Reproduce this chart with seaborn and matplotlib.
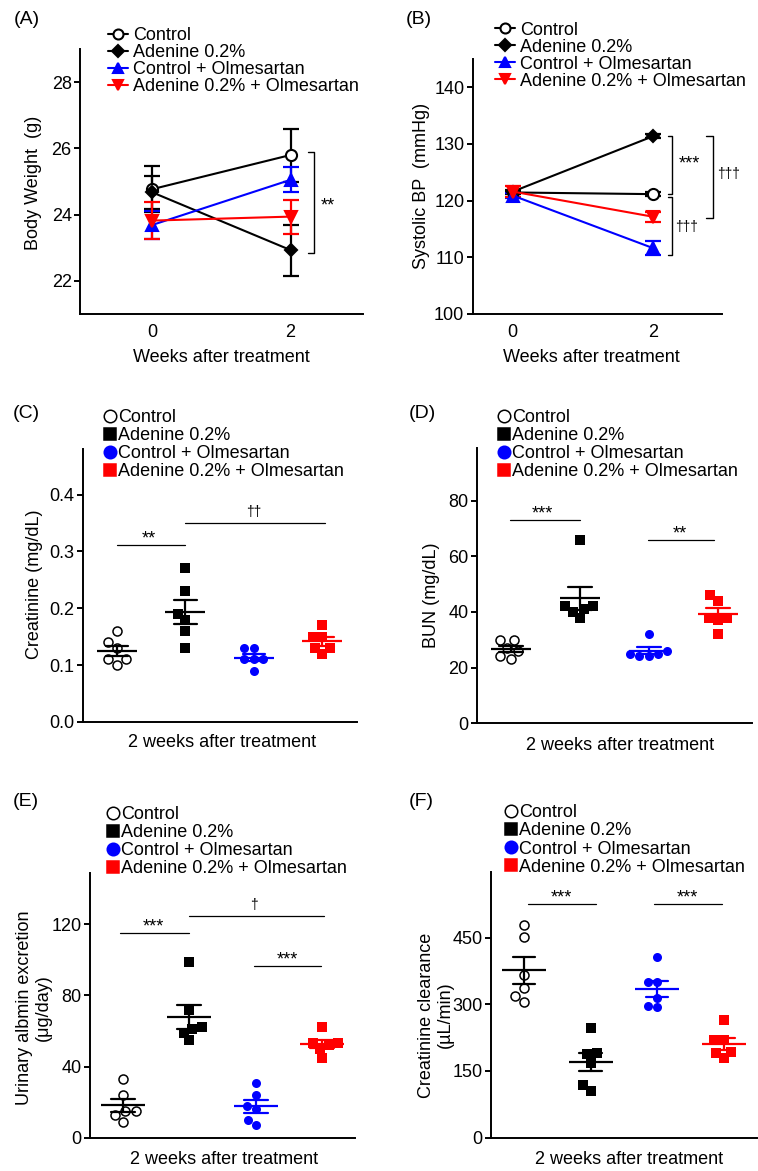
import numpy as np
import pandas as pd
import matplotlib
matplotlib.use("Agg")
import matplotlib.pyplot as plt
import seaborn as sns
from matplotlib.lines import Line2D
from matplotlib.ticker import FormatStrFormatter

# ---------------- data ----------------
groups = ["Control", "Adenine 0.2%", "Control + Olmesartan", "Adenine 0.2% + Olmesartan"]
weeks = [0, 2]

# (A) body weight (g), mean and SE
bw_control = [24.77, 25.80]
bw_control_se = [0.70, 0.80]
bw_adenine = [24.67, 22.93]
bw_adenine_se = [0.50, 0.77]
bw_ctrl_olm = [23.69, 25.05]
bw_ctrl_olm_se = [0.42, 0.38]
bw_aden_olm = [23.82, 23.94]
bw_aden_olm_se = [0.57, 0.51]

# (B) systolic BP (mmHg), mean and SE
sbp_control = [121.45, 121.15]
sbp_control_se = [0.3, 0.3]
sbp_adenine = [121.6, 131.4]
sbp_adenine_se = [0.3, 0.3]
sbp_ctrl_olm = [120.9, 111.6]
sbp_ctrl_olm_se = [0.4, 1.2]
sbp_aden_olm = [121.6, 117.15]
sbp_aden_olm_se = [1.0, 0.85]

# (C) creatinine (mg/dL)
cre_control = [0.16, 0.14, 0.13, 0.11, 0.11, 0.10]
cre_adenine = [0.27, 0.23, 0.19, 0.18, 0.16, 0.13]
cre_ctrl_olm = [0.13, 0.13, 0.11, 0.11, 0.11, 0.09]
cre_aden_olm = [0.17, 0.15, 0.15, 0.13, 0.13, 0.12]

# (D) BUN (mg/dL)
bun_control = [30, 30, 27, 26, 24, 23]
bun_adenine = [66, 42, 42, 41, 40, 38]
bun_ctrl_olm = [32, 26, 25, 25, 24, 24]
bun_aden_olm = [46, 44, 38, 38, 37, 32]

# (E) urinary albumin excretion (ug/day)
alb_control = [33, 24, 15, 15, 13, 9]
alb_adenine = [99, 72, 62, 61, 59, 55]
alb_ctrl_olm = [31, 24, 18, 16, 10, 7]
alb_aden_olm = [62, 53, 52, 53, 50, 45]

# (F) creatinine clearance (uL/min)
ccr_control = [478, 451, 366, 336, 319, 306]
ccr_adenine = [246, 191, 188, 169, 119, 106]
ccr_ctrl_olm = [407, 349, 349, 314, 297, 293]
ccr_aden_olm = [265, 220, 220, 192, 190, 179]

# ---------------- style ----------------
sns.set_theme(style="ticks")
plt.rcParams["font.family"] = ["Liberation Sans", "DejaVu Sans"]
plt.rcParams.update({
    "font.size": 13,
    "axes.linewidth": 1.4,
    "axes.edgecolor": "black",
    "axes.labelcolor": "black",
    "text.color": "black",
    "xtick.color": "black",
    "ytick.color": "black",
    "xtick.major.width": 1.4,
    "ytick.major.width": 1.4,
    "ytick.major.size": 4.5,
    "xtick.major.size": 0,
    "xtick.labelsize": 13,
    "ytick.labelsize": 13,
    "ytick.major.pad": 1.5,
    "xtick.major.pad": 7,
})

W, H = 758, 1171
fig = plt.figure(figsize=(W / 100, H / 100), dpi=100)

BOX = {
    "A": (80, 49, 363, 314),
    "B": (472.7, 59, 721.7, 314),
    "C": (82.7, 449, 356.7, 722),
    "D": (476.7, 447.7, 752.3, 723.3),
    "E": (90, 872.7, 355, 1137.7),
    "F": (490.7, 871.7, 757, 1137.7),
}


def make_ax(key):
    x0, y0, x1, y1 = BOX[key]
    ax = fig.add_axes([x0 / W, 1 - y1 / H, (x1 - x0) / W, (y1 - y0) / H])
    sns.despine(ax=ax)
    return ax


def label_at(ax, key, axis, text, cx, cy, **kw):
    x0, y0, x1, y1 = BOX[key]
    axx = (cx - x0) / (x1 - x0)
    axy = (y1 - cy) / (y1 - y0)
    if axis == "y":
        ax.set_ylabel(text, va="center", ha="center", fontsize=13, **kw)
        ax.yaxis.set_label_coords(axx, axy)
    else:
        ax.set_xlabel(text, va="center", ha="center", fontsize=13, **kw)
        ax.xaxis.set_label_coords(axx, axy)


def legend_at(handles, x_left, y_center, **kw):
    fig.legend(handles=handles, labels=groups, loc="center left",
               bbox_to_anchor=(x_left / W, 1 - y_center / H), frameon=False,
               borderpad=0, borderaxespad=0, fontsize=13, **kw)


line_styles = [
    dict(color="black", marker="o", mfc="white", ms=8),
    dict(color="black", marker="D", mfc="black", ms=6.5),
    dict(color="blue", marker="^", mfc="blue", ms=8.5),
    dict(color="red", marker="v", mfc="red", ms=8.5),
]

dot_styles = [
    dict(marker="o", face="white", edge="black", lw=1.1, mean="black"),
    dict(marker="s", face="black", edge="black", lw=0, mean="black"),
    dict(marker="o", face="blue", edge="blue", lw=0, mean="blue"),
    dict(marker="s", face="red", edge="red", lw=0, mean="red"),
]


def line_panel(ax, means, ses):
    for m, s, st in zip(means, ses, line_styles):
        ax.errorbar(weeks, m, yerr=s, fmt="none", ecolor=st["color"],
                    elinewidth=1.6, capsize=6, capthick=1.6, zorder=2)
        sns.lineplot(x=weeks, y=m, ax=ax, color=st["color"], marker=st["marker"],
                     markersize=st["ms"], markerfacecolor=st["mfc"],
                     markeredgecolor=st["color"], markeredgewidth=1.5,
                     linewidth=1.5, zorder=3)
    handles = [Line2D([0], [0], color=st["color"], marker=st["marker"],
                      markersize=st["ms"] * 0.9, markerfacecolor=st["mfc"],
                      markeredgecolor=st["color"], markeredgewidth=1.5, lw=1.5)
               for st in line_styles]
    return handles


def dot_panel(ax, data_lists, mean_w, cap):
    for g, vals, st in zip(groups, data_lists, dot_styles):
        sns.swarmplot(x=[g] * len(vals), y=vals, order=groups, ax=ax,
                      marker=st["marker"], color=st["face"], edgecolor=st["edge"],
                      linewidth=st["lw"], size=6.5, zorder=3)
    for g, vals, st in zip(groups, data_lists, dot_styles):
        sns.pointplot(x=[g] * len(vals), y=vals, order=groups, ax=ax,
                      color=st["mean"], errorbar="se", capsize=cap, markers="_",
                      linestyles="none", markersize=mean_w, markeredgewidth=1.6,
                      err_kws={"linewidth": 1.6}, zorder=4)
    ax.set_xlim(-0.5, 3.5)
    ax.tick_params(axis="x", bottom=False, labelbottom=False)
    ax.set_xlabel("")
    handles = [Line2D([0], [0], linestyle="none", marker=st["marker"],
                      markersize=9, markerfacecolor=st["face"],
                      markeredgecolor=st["edge"], markeredgewidth=1.1)
               for st in dot_styles]
    return handles


def sig_line(ax, x0, x1, y, text, xt=None, dagger=False):
    ax.plot([x0, x1], [y, y], color="black", lw=0.9, clip_on=False)
    xt = (x0 + x1) / 2 if xt is None else xt
    if dagger:
        ax.annotate(text, (xt, y), xytext=(0, 5), textcoords="offset points",
                    ha="center", va="baseline", fontsize=10)
    else:
        ax.annotate(text, (xt, y), xytext=(0, 1), textcoords="offset points",
                    ha="center", va="baseline", fontsize=13)


def bracket(ax, x_arm, x_bar, y_top, y_bot):
    ax.plot([x_arm, x_bar, x_bar, x_arm], [y_top, y_top, y_bot, y_bot],
            color="black", lw=1.0, clip_on=False)


# ---------------- (A) ----------------
axA = make_ax("A")
hA = line_panel(axA,
                [bw_control, bw_adenine, bw_ctrl_olm, bw_aden_olm],
                [bw_control_se, bw_adenine_se, bw_ctrl_olm_se, bw_aden_olm_se])
axA.set_xlim(-1.05, 3.05)
axA.set_ylim(21, 29)
axA.set_xticks(weeks)
axA.set_yticks([22, 24, 26, 28])
bracket(axA, 2.25, 2.34, 25.9, 22.83)
axA.annotate("**", (2.54, 24.13), ha="center", va="baseline", fontsize=13)
label_at(axA, "A", "x", "Weeks after treatment", 221, 357)
label_at(axA, "A", "y", "Body Weight  (g)", 33, 183)
legend_at(hA, 108, 61, handlelength=1.1, handletextpad=0.3, labelspacing=0.0)

# ---------------- (B) ----------------
axB = make_ax("B")
hB = line_panel(axB,
                [sbp_control, sbp_adenine, sbp_ctrl_olm, sbp_aden_olm],
                [sbp_control_se, sbp_adenine_se, sbp_ctrl_olm_se, sbp_aden_olm_se])
axB.set_xlim(-0.57, 2.97)
axB.set_ylim(100, 145)
axB.set_xticks(weeks)
axB.set_yticks([100, 110, 120, 130, 140])
bracket(axB, 2.2, 2.26, 131.5, 121.2)
bracket(axB, 2.2, 2.26, 120.7, 110.5)
bracket(axB, 2.75, 2.85, 131.5, 116.9)
axB.annotate("***", (2.51, 125.7), ha="center", va="baseline", fontsize=13)
axB.annotate("\u2020\u2020\u2020", (2.465, 114.73), ha="center", va="baseline", fontsize=10)
axB.annotate("\u2020\u2020\u2020", (3.065, 124.0), ha="center", va="baseline",
             fontsize=10, annotation_clip=False)
label_at(axB, "B", "x", "Weeks after treatment", 591, 358)
label_at(axB, "B", "y", "Systolic BP  (mmHg)", 421.7, 186)
legend_at(hB, 495, 55.7, handlelength=1.1, handletextpad=0.3, labelspacing=0.0)

# ---------------- (C) ----------------
axC = make_ax("C")
hC = dot_panel(axC, [cre_control, cre_adenine, cre_ctrl_olm, cre_aden_olm], 29, 0.33)
axC.set_ylim(0, 0.48)
axC.set_yticks([0.0, 0.1, 0.2, 0.3, 0.4])
axC.yaxis.set_major_formatter(FormatStrFormatter("%.1f"))
sig_line(axC, 0, 1, 0.311, "**", xt=0.47)
sig_line(axC, 1, 3.03, 0.35, "\u2020\u2020", xt=2.0, dagger=True)
label_at(axC, "C", "x", "2 weeks after treatment", 222.5, 742.7)
label_at(axC, "C", "y", "Creatinine (mg/dL)", 35, 584)
legend_at(hC, 103.2, 444.7, handlelength=0.7, handletextpad=0.1, labelspacing=0.06)

# ---------------- (D) ----------------
axD = make_ax("D")
hD = dot_panel(axD, [bun_control, bun_adenine, bun_ctrl_olm, bun_aden_olm], 29, 0.35)
axD.set_ylim(0, 99)
axD.set_yticks([0, 20, 40, 60, 80])
sig_line(axD, -0.01, 1.0, 73, "***", xt=0.45)
sig_line(axD, 1.98, 2.95, 65.9, "**", xt=2.45)
label_at(axD, "D", "x", "2 weeks after treatment", 620, 745)
label_at(axD, "D", "y", "BUN (mg/dL)", 431.7, 595)
legend_at(hD, 497.9, 444.7, handlelength=0.7, handletextpad=0.1, labelspacing=0.06)

# ---------------- (E) ----------------
axE = make_ax("E")
hE = dot_panel(axE, [alb_control, alb_adenine, alb_ctrl_olm, alb_aden_olm], 32, 0.36)
axE.set_ylim(0, 149)
axE.set_yticks([0, 40, 80, 120])
sig_line(axE, -0.05, 1.0, 114.9, "***", xt=0.46)
sig_line(axE, 1.0, 3.03, 124.7, "\u2020", xt=1.98, dagger=True)
sig_line(axE, 1.97, 2.99, 96.6, "***", xt=2.48)
label_at(axE, "E", "x", "2 weeks after treatment", 224, 1160)
label_at(axE, "E", "y", "Urinary albmin excretion\n(\u03bcg/day)", 34, 1008, linespacing=1.2)
legend_at(hE, 106.4, 841.8, handlelength=0.7, handletextpad=0.1, labelspacing=0.06)

# ---------------- (F) ----------------
axF = make_ax("F")
hF = dot_panel(axF, [ccr_control, ccr_adenine, ccr_ctrl_olm, ccr_aden_olm], 32, 0.34)
axF.set_ylim(0, 598)
axF.set_yticks([0, 150, 300, 450])
sig_line(axF, 0.06, 1.08, 525.8, "***", xt=0.56)
sig_line(axF, 1.96, 2.98, 525.8, "***", xt=2.45)
label_at(axF, "F", "x", "2 weeks after treatment", 629, 1160)
label_at(axF, "F", "y", "Creatinine clearance\n(\u00b5L/min)", 436, 1015, linespacing=1.1)
legend_at(hF, 504.5, 840, handlelength=0.7, handletextpad=0.1, labelspacing=0.06)

# ---------------- panel letters ----------------
for lab, (px, py) in {"(A)": (14, 20), "(B)": (406, 20), "(C)": (13, 413),
                      "(D)": (409, 413), "(E)": (13, 802), "(F)": (409, 802)}.items():
    fig.text(px / W, 1 - py / H, lab, ha="left", va="center", fontsize=14)

fig.savefig("out.png", dpi=100)
